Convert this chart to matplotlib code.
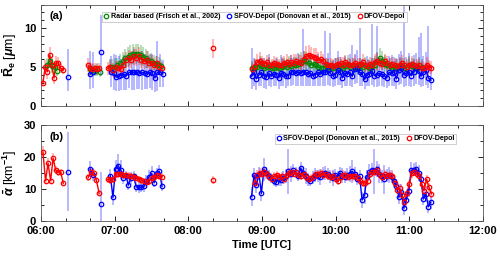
import numpy as np
import matplotlib
matplotlib.use('Agg')
import matplotlib.pyplot as plt
from matplotlib.ticker import MultipleLocator, FixedLocator

plt.rcParams['font.family'] = ['Liberation Sans', 'DejaVu Sans']
plt.rcParams['font.weight'] = 'bold'
plt.rcParams['mathtext.fontset'] = 'custom'
plt.rcParams['mathtext.rm'] = 'Liberation Sans:bold'
plt.rcParams['mathtext.it'] = 'Liberation Sans:bold:italic'
plt.rcParams['mathtext.bf'] = 'Liberation Sans:bold'

# ---- data: each series is a list of segments (minutes after 06:00, start + step)

# panel (a): effective radius [um]
re_radar_start = [5, 40, 56, 172]
re_radar_step = [2, 2, 2.1, 2]
re_radar = [
    [5.3, 5.7, 5.1, 5.0, 4.5],
    [4.7, 4.6, 4.5, 4.7, 4.4],
    [5.0, 5.05, 5.0, 5.2, 5.5, 5.7, 6.1, 6.3, 6.5, 6.7, 6.7, 6.7, 6.5, 6.3, 6.1,
     5.9, 5.7, 5.55, 5.4, 5.25, 5.1],
    [4.8, 4.9, 5.0, 5.2, 5.1, 4.9, 5.0, 5.1, 4.8, 4.9,
     5.0, 4.8, 5.0, 5.1, 5.0, 5.2, 5.1, 5.3, 5.2, 5.4,
     5.6, 5.8, 5.7, 5.5, 5.3, 5.4, 5.2, 5.0, 4.9, 4.9,
     5.1, 5.0, 4.8, 4.9, 5.0, 5.2, 5.0, 4.9, 5.1, 5.3,
     5.0, 5.1, 5.0, 4.9, 5.1, 5.0, 5.2, 5.0, 4.9, 5.1,
     5.3, 5.7, 6.1, 5.8, 5.4, 5.2, 5.1, 4.9, 4.8, 5.0,
     5.2, 5.1, 4.9, 5.0, 5.3, 5.1, 5.0, 4.9, 5.2, 5.0],
]
re_radar_err = [
    [0.8, 0.9, 0.9, 0.8, 0.7],
    [0.8, 0.8, 0.7, 0.8, 0.7],
    [1.0, 1.0, 1.1, 1.0, 1.1, 1.2, 1.2, 1.3, 1.3, 1.3, 1.3, 1.2, 1.3, 1.2, 1.2,
     1.1, 1.1, 1.0, 1.0, 1.0, 0.9],
    [1.0, 1.1, 1.0, 1.2, 1.0, 0.9, 1.0, 1.1, 0.9, 1.0,
     1.0, 0.9, 1.1, 1.0, 1.0, 1.2, 1.1, 1.0, 1.1, 1.2,
     1.3, 1.3, 1.2, 1.1, 1.0, 1.1, 1.0, 0.9, 1.0, 1.0,
     1.1, 1.0, 0.9, 1.0, 1.1, 1.0, 1.0, 0.9, 1.1, 1.2,
     1.0, 1.1, 1.0, 0.9, 1.0, 1.0, 1.1, 1.0, 0.9, 1.0,
     1.1, 1.2, 1.3, 1.2, 1.1, 1.0, 1.0, 0.9, 1.0, 1.0,
     1.1, 1.0, 0.9, 1.0, 1.1, 1.0, 1.0, 0.9, 1.1, 1.0],
]

re_sfov_start = [22, 40, 48.6, 57, 171.5]
re_sfov_step = [2, 2, 2, 2.1, 2]
re_sfov = [
    [3.7],
    [4.1, 4.3],
    [6.9],
    [4.4, 4.2, 3.7, 3.8, 4.0, 4.1, 3.9, 4.3, 4.3, 4.3, 4.3, 4.2, 4.3, 4.2, 4.1,
     4.3, 4.2, 3.6, 4.3, 4.4, 4.1],
    [3.8, 4.3, 3.5, 4.0, 4.3, 3.9, 3.7, 4.2, 3.8, 4.1,
     4.0, 3.6, 4.2, 4.1, 3.8, 3.9, 4.3, 4.4, 4.2, 4.3,
     4.2, 4.4, 4.3, 4.1, 4.2, 3.9, 4.0, 4.3, 4.1, 4.4,
     4.3, 4.6, 4.2, 3.9, 4.0, 4.6, 4.4, 3.6, 4.2, 4.1,
     4.3, 3.8, 4.7, 4.9, 4.3, 4.1, 3.4, 4.0, 4.1, 4.5,
     3.9, 4.0, 4.2, 4.1, 3.9, 3.6, 4.3, 4.2, 4.4, 3.5,
     4.6, 4.8, 4.0, 4.2, 4.4, 3.9, 4.3, 4.8, 4.5, 3.8,
     4.3, 4.6, 3.6, 3.3],
]
re_sfov_lo = [
    [1.8],
    [1.9, 2.0],
    [3.0],
    [2.0, 2.2, 1.8, 1.9, 2.0, 2.1, 1.9, 2.0, 2.2, 2.3, 2.1, 2.0, 2.2, 2.0, 1.9,
     2.0, 2.1, 1.8, 2.4, 2.0, 1.7],
    [1.6, 1.7, 1.5, 1.4, 1.8, 1.6, 1.5, 1.7, 1.4, 1.6,
     1.5, 1.4, 1.7, 1.6, 1.5, 1.4, 1.8, 1.7, 1.6, 1.8,
     1.6, 1.9, 1.7, 1.5, 1.6, 1.4, 1.5, 1.7, 1.6, 1.8,
     1.8, 1.9, 1.6, 1.5, 1.5, 1.9, 1.7, 1.3, 1.6, 1.5,
     1.7, 1.4, 1.9, 2.0, 1.7, 1.6, 1.2, 1.5, 1.6, 1.8,
     1.5, 1.6, 1.7, 1.6, 1.5, 1.3, 1.7, 1.6, 1.8, 1.3,
     1.9, 2.0, 1.6, 1.7, 1.8, 1.5, 1.7, 2.0, 1.8, 1.4,
     1.7, 1.9, 1.3, 1.2],
]
re_sfov_hi = [
    [3.6],
    [3.0, 2.6],
    [4.8],
    [2.0, 2.5, 2.8, 2.6, 2.0, 2.4, 2.2, 2.5, 2.8, 3.0, 2.6, 2.4, 2.7, 2.5, 2.2,
     2.3, 2.4, 2.0, 4.0, 2.2, 1.8],
    [3.6, 1.8, 2.0, 1.5, 1.9, 2.2, 1.6, 2.4, 1.8, 1.7,
     2.1, 1.6, 2.3, 1.9, 1.5, 2.0, 2.2, 1.7, 1.9, 2.5,
     2.0, 5.5, 2.1, 1.8, 2.3, 1.6, 1.9, 2.4, 2.0, 1.7,
     5.3, 2.2, 5.2, 1.8, 2.1, 2.5, 1.9, 2.0, 2.2, 1.8,
     2.4, 4.0, 2.0, 2.3, 5.7, 1.9, 2.1, 2.4, 1.8, 6.0,
     2.2, 6.3, 1.9, 2.0, 2.4, 1.7, 2.1, 2.3, 1.9, 2.6,
     2.0, 2.3, 9.0, 2.1, 2.4, 1.9, 2.2, 2.0, 4.3, 5.6,
     2.1, 2.3, 6.6, 1.8],
]

re_dfov_start = [1.6, 38.5, 54.5, 140.4, 172]
re_dfov_step = [1.8, 1.7, 2.1, 2, 2]
re_dfov = [
    [3.0, 5.0, 4.4, 6.5, 5.3, 3.6, 5.5, 5.5, 4.8, 4.6],
    [5.2, 4.8, 4.7, 4.8, 4.7, 4.9],
    [4.8, 5.0, 4.6, 5.0, 4.9, 4.75, 5.25, 5.9, 6.1, 5.95, 6.4, 6.2, 6.4, 5.95,
     5.7, 5.95, 5.5, 5.55, 5.25, 5.5, 5.0, 4.8],
    [7.4],
    [4.7, 5.1, 5.6, 5.8, 5.5, 5.4, 5.6, 5.3, 5.2, 5.5,
     5.4, 5.2, 5.3, 5.5, 5.6, 5.4, 5.6, 5.5, 5.7, 5.6,
     5.5, 6.0, 6.4, 6.5, 6.4, 6.3, 6.2, 5.9, 6.0, 5.7,
     5.4, 5.2, 5.3, 5.1, 5.2, 5.4, 5.5, 5.3, 5.6, 5.4,
     5.2, 5.3, 5.5, 5.3, 5.4, 5.6, 5.3, 5.1, 5.4, 5.3,
     5.6, 5.7, 5.5, 5.4, 5.7, 5.5, 5.3, 5.4, 5.2, 5.1,
     5.3, 5.5, 5.2, 5.0, 5.3, 5.4, 5.2, 5.1, 5.2, 4.9,
     4.8, 5.3, 5.0, 4.9],
]
re_dfov_err = [
    [0.5, 0.9, 1.0, 1.1, 1.0, 0.8, 0.9, 0.8, 0.6, 0.5],
    [0.9, 0.8, 0.8, 0.7, 0.7, 0.6],
    [0.8, 0.9, 0.9, 0.8, 0.9, 0.9, 1.0, 1.0, 1.1, 1.1, 1.2, 1.1, 1.2, 1.1, 1.0,
     1.1, 1.0, 1.0, 0.9, 0.9, 0.8, 0.8],
    [1.2],
    [0.8, 0.9, 1.0, 1.1, 0.9, 0.8, 0.9, 1.0, 0.8, 0.9,
     0.9, 0.8, 1.0, 0.9, 1.0, 0.8, 0.9, 1.1, 1.0, 0.9,
     1.0, 1.1, 1.3, 1.3, 1.2, 1.1, 1.2, 1.0, 1.0, 0.9,
     0.8, 0.9, 0.8, 0.9, 1.0, 0.9, 0.8, 1.0, 0.9, 0.8,
     0.9, 0.8, 1.0, 0.9, 0.8, 1.0, 0.9, 0.8, 0.9, 0.8,
     1.0, 1.1, 0.9, 0.8, 1.0, 0.9, 0.8, 0.9, 0.8, 0.9,
     0.8, 1.0, 0.9, 0.8, 0.9, 1.0, 0.8, 0.9, 0.8, 0.9,
     0.8, 1.0, 0.9, 0.8],
]

# panel (b): extinction coefficient [km-1]
ext_sfov_start = [22, 40, 48.6, 56.5, 171.5]
ext_sfov_step = [2, 2, 2, 2.1, 2]
ext_sfov = [
    [15.4],
    [16.2, 14.4],
    [5.2],
    [14.1, 7.4, 16.2, 17.3, 16.0, 13.5, 14.2, 11.2, 13.5, 14.0, 10.7, 10.5,
     10.5, 10.8, 12.5, 13.8, 14.9, 12.0, 14.9, 15.5, 10.9],
    [7.6, 14.4, 11.3, 14.8, 8.6, 16.1, 15.0, 14.2, 13.5, 12.6,
     12.2, 13.0, 12.8, 13.5, 14.0, 15.5, 14.8, 15.8, 15.2, 14.0,
     16.5, 15.0, 14.2, 13.0, 12.5, 13.5, 14.5, 14.0, 13.8, 14.8,
     15.0, 14.6, 14.0, 13.5, 14.5, 13.8, 15.0, 14.2, 13.8, 14.5,
     14.8, 15.5, 14.8, 13.2, 14.0, 6.6, 8.2, 13.8, 15.2, 16.0,
     15.5, 16.2, 14.8, 14.0, 13.0, 14.2, 14.5, 13.8, 12.5, 11.0,
     7.4, 9.0, 4.0, 6.5, 9.5, 15.8, 16.0, 16.2, 15.0, 13.0,
     6.9, 8.5, 4.5, 5.9],
]
ext_sfov_err = [
    [12.3],
    [2.5, 2.0],
    [10.2],
    [2.0, 2.5, 2.8, 3.5, 3.0, 2.0, 1.5, 1.5, 1.8, 1.6, 1.5, 1.8, 1.4, 1.6, 1.8,
     2.0, 2.2, 1.5, 1.8, 2.0, 1.5],
    [3.0, 2.0, 2.5, 2.0, 2.5, 3.5, 2.0, 1.8, 1.5, 1.8,
     1.5, 2.0, 1.8, 2.0, 2.2, 7.0, 2.5, 2.0, 1.8, 1.5,
     2.0, 1.8, 2.5, 2.0, 1.5, 2.0, 2.2, 1.8, 2.5, 2.0,
     2.2, 1.8, 2.0, 2.5, 1.6, 1.8, 2.0, 2.2, 1.8, 2.0,
     2.5, 3.5, 2.0, 2.0, 1.8, 2.5, 3.0, 2.0, 2.5, 2.0,
     7.0, 2.5, 3.0, 2.0, 4.5, 2.0, 2.5, 2.0, 1.8, 2.0,
     2.0, 2.5, 2.0, 2.5, 2.0, 2.5, 2.0, 2.2, 2.5, 2.0,
     2.0, 2.5, 2.0, 2.0],
]

ext_dfov_start = [1.6, 38.5, 54.5, 140.4, 174]
ext_dfov_step = [2.07, 2.2, 2.1, 2, 2]
ext_dfov = [
    [21.5, 12.6, 18.0, 12.6, 19.6, 15.9, 15.4, 15.2, 11.8],
    [13.6, 15.4, 14.9, 12.8, 8.7],
    [13.0, 12.8, 13.0, 14.7, 14.8, 14.6, 14.5, 14.3, 14.2, 14.0, 13.8, 13.5,
     13.2, 12.7, 12.4, 12.2, 12.6, 13.3, 13.8, 14.3, 14.1, 13.8],
    [12.8],
    [11.8, 14.5, 15.0, 14.6, 15.2, 14.8, 13.8, 13.2, 14.0, 14.5,
     13.8, 14.2, 13.0, 14.5, 15.0, 15.3, 14.8, 15.2, 14.4, 14.0,
     14.8, 13.6, 13.2, 13.5, 14.0, 14.6, 14.8, 14.9, 14.5, 14.8,
     14.0, 13.6, 14.2, 13.2, 12.4, 13.8, 14.5, 14.4, 13.8, 14.2,
     13.9, 14.1, 13.5, 12.5, 12.0, 11.8, 12.6, 14.8, 15.4, 15.2,
     15.8, 14.5, 13.8, 14.6, 14.2, 14.5, 14.0, 12.0, 9.8, 10.2,
     8.2, 6.0, 8.6, 11.5, 15.0, 15.4, 14.8, 14.2, 11.5, 9.5,
     13.0, 10.5, 8.5],
]
ext_dfov_err = [
    [1.8, 1.2, 1.8, 1.2, 1.6, 1.2, 1.2, 1.0, 1.0],
    [1.0, 1.2, 1.2, 1.0, 1.0],
    [1.2, 1.1, 1.2, 1.3, 1.3, 1.2, 1.2, 1.1, 1.2, 1.1, 1.2, 1.1, 1.0, 1.1,
     1.0, 1.0, 1.1, 1.2, 1.2, 1.3, 1.2, 1.1],
    [1.3],
    [1.2, 1.3, 1.4, 1.2, 1.3, 1.2, 1.1, 1.2, 1.3, 1.2,
     1.1, 1.2, 1.3, 1.2, 1.4, 1.3, 1.2, 1.3, 1.2, 1.1,
     1.2, 1.1, 1.2, 1.3, 1.2, 1.3, 1.2, 1.4, 1.3, 1.2,
     1.1, 1.2, 1.3, 1.2, 1.1, 1.2, 1.3, 1.2, 1.1, 1.2,
     1.3, 1.2, 1.1, 1.2, 1.3, 1.2, 1.3, 1.4, 1.3, 1.2,
     1.5, 1.3, 1.2, 1.3, 1.2, 1.3, 1.2, 1.3, 1.4, 1.3,
     1.2, 1.3, 1.4, 1.3, 1.5, 1.4, 1.3, 1.2, 1.4, 1.3,
     1.5, 1.4, 1.3],
]

hour_ticks = [6, 7, 8, 9, 10, 11, 12]
hour_labels = ['06:00', '07:00', '08:00', '09:00', '10:00', '11:00', '12:00']

GREEN = '#008c00'
BLUE = '#0000ff'
RED = '#ff0000'


def join(starts, steps, segs):
    out = []
    for s, d, v in zip(starts, steps, segs):
        out += [6 + (s + d * i) / 60.0 for i in range(len(v))] + [np.nan]
    return np.array(out)


def flat(segs):
    out = []
    for v in segs:
        out += list(v) + [np.nan]
    return np.array(out)


def draw(ax, starts, steps, vals, lo, hi, color, label, lw=1.0):
    t = join(starts, steps, vals)
    y = flat(vals)
    el = flat(lo)
    eh = flat(hi)
    m = ~np.isnan(y)
    ax.errorbar(t[m], y[m], yerr=[el[m], eh[m]], fmt='none', ecolor=color,
                alpha=0.3, elinewidth=1.3, capsize=0, zorder=2)
    ax.plot(t, y, '-', color=color, lw=lw, zorder=3)
    ax.plot(t[m], y[m], 'o', mfc='none', mec=color, ms=3.2, mew=0.9,
            zorder=4, label=label)


fig = plt.figure(figsize=(5.0, 2.57), dpi=100)
ax1 = fig.add_axes([0.082, 0.588, 0.884, 0.394])
ax2 = fig.add_axes([0.082, 0.140, 0.884, 0.374])

draw(ax1, re_radar_start, re_radar_step, re_radar, re_radar_err, re_radar_err,
     GREEN, 'Radar based (Frisch et al., 2002)', lw=0.6)
draw(ax1, re_sfov_start, re_sfov_step, re_sfov, re_sfov_lo, re_sfov_hi,
     BLUE, 'SFOV-Depol (Donovan et al., 2015)')
draw(ax1, re_dfov_start, re_dfov_step, re_dfov, re_dfov_err, re_dfov_err,
     RED, 'DFOV-Depol')

draw(ax2, ext_sfov_start, ext_sfov_step, ext_sfov, ext_sfov_err, ext_sfov_err,
     BLUE, 'SFOV-Depol (Donovan et al., 2015)')
draw(ax2, ext_dfov_start, ext_dfov_step, ext_dfov, ext_dfov_err, ext_dfov_err,
     RED, 'DFOV-Depol')

for ax in (ax1, ax2):
    ax.set_xlim(6, 12)
    ax.xaxis.set_major_locator(FixedLocator(hour_ticks))
    ax.xaxis.set_minor_locator(MultipleLocator(1 / 3))
    ax.tick_params(which='both', direction='in', top=True, right=True,
                   labelsize=8, width=0.6)
    ax.tick_params(which='major', length=3.5)
    ax.tick_params(which='minor', length=2)
    for sp in ax.spines.values():
        sp.set_linewidth(0.6)
        sp.set_color('#555555')

ax1.set_ylim(0, 13)
ax1.yaxis.set_major_locator(FixedLocator([0, 5, 10]))
ax1.yaxis.set_minor_locator(MultipleLocator(1))
ax1.set_xticklabels([])
ax1.set_ylabel(r'$\bar{\rm R}_{\rm e}$ [$\mu$m]', fontsize=9)
ax1.yaxis.set_label_coords(-0.05, 0.5)
ax1.text(0.02, 0.94, '(a)', transform=ax1.transAxes, fontsize=8,
         fontweight='bold', va='top')

ax2.set_ylim(0, 30)
ax2.yaxis.set_major_locator(FixedLocator([0, 10, 20, 30]))
ax2.yaxis.set_minor_locator(MultipleLocator(5))
ax2.set_xticklabels(hour_labels)
ax2.set_xlabel('Time [UTC]', fontsize=8, fontweight='bold', labelpad=3)
ax2.set_ylabel(r'$\bar{\alpha}$ [km$^{-1}$]', fontsize=9)
ax2.yaxis.set_label_coords(-0.05, 0.5)
ax2.text(0.02, 0.93, '(b)', transform=ax2.transAxes, fontsize=8,
         fontweight='bold', va='top')

leg_kw = dict(ncol=3, fontsize=5.1, handlelength=0.6, handletextpad=0.3,
              columnspacing=1.0, borderpad=0.25, borderaxespad=0.0,
              fancybox=False, framealpha=1, edgecolor='#bbbbbb')
l1 = ax1.legend(loc='upper left', bbox_to_anchor=(0.139, 0.93), **leg_kw)
l2 = ax2.legend(loc='upper left', bbox_to_anchor=(0.529, 0.91),
                **dict(leg_kw, ncol=2))
for lg in (l1, l2):
    lg.get_frame().set_linewidth(0.5)

fig.savefig('out.png', dpi=100)
